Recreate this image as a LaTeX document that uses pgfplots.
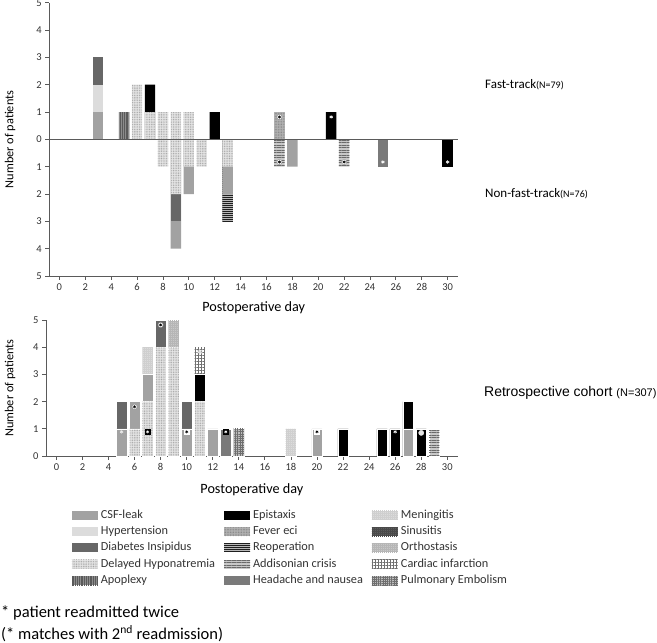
\documentclass[border=0pt]{standalone}
\usepackage{fontspec}
\setmainfont{Carlito}
\newfontfamily\arialfont{Liberation Sans}
\usepackage{pgfplots}
\pgfplotsset{compat=1.18}
\usetikzlibrary{patterns,patterns.meta}

\definecolor{axgray}{HTML}{5A5A5A}
\definecolor{tickgray}{HTML}{333333}
\definecolor{cCSF}{HTML}{A2A2A2}
\definecolor{cHyp}{HTML}{DCDCDC}
\definecolor{cDI}{HTML}{676767}
\definecolor{cDH}{HTML}{E6E6E6}
\definecolor{cDHp}{HTML}{A6A6A6}
\definecolor{cApo}{HTML}{8C8C8C}
\definecolor{cApop}{HTML}{5A5A5A}
\definecolor{cFev}{HTML}{B2B2B2}
\definecolor{cFevp}{HTML}{7E7E7E}
\definecolor{cReo}{HTML}{B8B8B8}
\definecolor{cReop}{HTML}{1E1E1E}
\definecolor{cAdd}{HTML}{C8C8C8}
\definecolor{cAddp}{HTML}{6A6A6A}
\definecolor{cHead}{HTML}{7A7A7A}
\definecolor{cMen}{HTML}{DCDCDC}
\definecolor{cMenp}{HTML}{CFCFCF}
\definecolor{cSin}{HTML}{5C5C5C}
\definecolor{cSinp}{HTML}{4A4A4A}
\definecolor{cOrt}{HTML}{C8C8C8}
\definecolor{cOrtp}{HTML}{B6B6B6}
\definecolor{cCarp}{HTML}{707070}
\definecolor{cPE}{HTML}{BDBDBD}
\definecolor{cPEp}{HTML}{6E6E6E}

\tikzset{
  csf/.style={fill=cCSF},
  hyp/.style={fill=cHyp},
  di/.style={fill=cDI},
  dh/.style={fill=cDH, postaction={draw=none, pattern={Dots[distance=1.7pt,radius=0.55pt]}, pattern color=cDHp}},
  apo/.style={fill=cApo, postaction={draw=none, pattern={Lines[angle=90,distance=1.8pt,line width=0.7pt]}, pattern color=cApop}},
  epi/.style={fill=black},
  fev/.style={fill=cFev, postaction={draw=none, pattern={Dots[distance=1.6pt,radius=0.45pt]}, pattern color=cFevp}},
  reo/.style={fill=cReo, postaction={draw=none, pattern={Lines[angle=0,distance=2pt,line width=0.9pt]}, pattern color=cReop}},
  add/.style={fill=cAdd, postaction={draw=none, pattern={Lines[angle=0,distance=2.5pt,line width=1pt]}, pattern color=cAddp}},
  hea/.style={fill=cHead},
  men/.style={fill=cMen, postaction={draw=none, pattern={Hatch[angle=0,distance=2pt,line width=0.3pt]}, pattern color=cMenp}},
  sin/.style={fill=cSin, postaction={draw=none, pattern={Hatch[angle=0,distance=2pt,line width=0.4pt]}, pattern color=cSinp}},
  ort/.style={fill=cOrt, postaction={draw=none, pattern={Hatch[angle=0,distance=2pt,line width=0.3pt]}, pattern color=cOrtp}},
  car/.style={fill=white, postaction={draw=none, pattern={Hatch[angle=0,distance=3pt,line width=0.6pt]}, pattern color=cCarp}},
  pe/.style={fill=cPE, postaction={draw=none, pattern={Hatch[angle=0,distance=2.2pt,line width=0.6pt]}, pattern color=cPEp}},
}

\pgfplotsset{
  seg/.style={ybar, bar width=0.8, bar shift=0pt, draw=none, forget plot},
  segB/.style={ybar, bar width=0.8, bar shift=0pt, draw=white, line width=0.5pt, forget plot},
  myax/.style={
    scale only axis,
    axis x line*=bottom, axis y line*=left,
    axis line style={axgray, line width=0.8pt},
    tick style={axgray, line width=0.8pt},
    major tick length=4pt, tick align=outside,
    xtick={0,2,...,30},
    ticklabel style={font=\fontsize{10.5}{12}\selectfont, text=tickgray},
    /pgf/number format/assume math mode=true,
    clip=false,
  },
}

\begin{document}
\begin{tikzpicture}
\useasboundingbox (0pt,0pt) rectangle (657pt,643pt);

% ---------------- Top: fast-track vs non-fast-track ----------------
\begin{axis}[myax,
  at={(49.3pt,367pt)}, anchor=south west,
  width=408.7pt, height=273.3pt,
  xmin=-0.78, xmax=30.8, ymin=-5, ymax=5,
  ytick={-5,-4,...,5},
  yticklabels={5,4,3,2,1,0,1,2,3,4,5},
  xlabel={Postoperative day},
  ylabel={Number of patients},
  every axis x label/.style={at={(axis description cs:0.5,-0.117)}, anchor=center, font=\fontsize{14.2}{16}\selectfont},
  every axis y label/.style={at={(axis description cs:-0.096,0.5)}, rotate=90, anchor=center, font=\fontsize{12.3}{14}\selectfont},
]
% fast-track (positive), outer segments first
\addplot[seg, di]  coordinates {(3,3)};
\addplot[seg, hyp] coordinates {(3,2)};
\addplot[seg, epi] coordinates {(7,2) (12,1) (21,1)};
\addplot[seg, csf] coordinates {(3,1)};
\addplot[seg, apo] coordinates {(5,1)};
\addplot[seg, dh]  coordinates {(6,2) (7,1) (8,1) (9,1) (10,1)};
\addplot[seg, fev] coordinates {(17,1)};
% non-fast-track (negative), outer segments first
\addplot[seg, reo] coordinates {(13,-3)};
\addplot[seg, csf] coordinates {(9,-4) (10,-2) (13,-2) (18,-1)};
\addplot[seg, di]  coordinates {(9,-3)};
\addplot[seg, dh]  coordinates {(8,-1) (9,-2) (10,-1) (11,-1) (13,-1)};
\addplot[seg, add] coordinates {(17,-1) (22,-1)};
\addplot[seg, hea] coordinates {(25,-1)};
\addplot[seg, epi] coordinates {(30,-1)};
% zero line
\draw[axgray, line width=0.8pt] (axis cs:-0.78,0) -- (axis cs:30.8,0);
% readmission markers
\addplot[only marks, mark=*, mark size=2.6pt, mark options={fill=white, draw=gray, line width=0.3pt}, forget plot]
  coordinates {(17,0.82) (17,-0.83) (22,-0.83)};
\addplot[only marks, mark=asterisk, mark size=1.6pt, mark options={black, line width=0.5pt}, forget plot]
  coordinates {(17,0.82) (17,-0.83) (22,-0.83)};
\addplot[only marks, mark=asterisk, mark size=1.8pt, mark options={white, line width=0.6pt}, forget plot]
  coordinates {(21,0.82) (25,-0.83) (30,-0.83)};
\end{axis}

% ---------------- Bottom: retrospective cohort ----------------
\begin{axis}[myax,
  at={(46pt,187pt)}, anchor=south west,
  width=411.7pt, height=136pt,
  xmin=-0.8, xmax=30.8, ymin=0, ymax=5,
  ytick={0,1,...,5},
  xlabel={Postoperative day},
  ylabel={Number of patients},
  every axis x label/.style={at={(axis description cs:0.5,-0.25)}, anchor=center, font=\fontsize{14.2}{16}\selectfont},
  every axis y label/.style={at={(axis description cs:-0.0874,0.5)}, rotate=90, anchor=center, font=\fontsize{12.3}{14}\selectfont},
  legend columns=3,
  legend cell align=left,
  legend image code/.code={\path[#1, draw=none] (0pt,-4.5pt) rectangle (26pt,4.5pt);},
  legend style={at={(0.055,-0.365)}, anchor=north west, draw=none, fill=none,
    font=\fontsize{12.3}{14}\selectfont, text=tickgray, row sep=1.3pt,
    nodes={inner xsep=3pt, inner ysep=1.5pt, text height=9pt, text depth=3pt},
    /tikz/every even column/.append style={column sep=6pt}},
]
\addplot[segB, men] coordinates {(7,4) (18,1)};
\addplot[segB, ort] coordinates {(9,5)};
\addplot[segB, car] coordinates {(11,4)};
\addplot[segB, di]  coordinates {(5,2) (8,5) (10,2)};
\addplot[segB, epi] coordinates {(11,3) (22,1) (25,1) (26,1) (27,2) (28,1)};
\addplot[segB, csf] coordinates {(5,1) (6,2) (7,3) (10,1) (12,1) (20,1) (27,1)};
\addplot[segB, dh]  coordinates {(6,1) (7,2) (8,4) (9,4) (11,2)};
\addplot[segB, hea] coordinates {(13,1)};
\addplot[segB, pe]  coordinates {(14,1)};
\addplot[segB, add] coordinates {(29,1)};
% readmission markers
\addplot[only marks, mark=*, mark size=2.6pt, mark options={fill=white, draw=gray, line width=0.3pt}, forget plot]
  coordinates {(6,1.81) (8,4.82)};
\addplot[only marks, mark=asterisk, mark size=1.6pt, mark options={black, line width=0.5pt}, forget plot]
  coordinates {(6,1.81) (8,4.82)};
\addplot[only marks, mark=square*, mark size=2.3pt, mark options={fill=black, draw=black}, forget plot]
  coordinates {(7,0.89) (13,0.89)};
\addplot[only marks, mark=asterisk, mark size=1.5pt, mark options={white, line width=0.5pt}, forget plot]
  coordinates {(7,0.89) (13,0.89)};
\addplot[only marks, mark=square*, mark size=2.3pt, mark options={fill=white, draw=white}, forget plot]
  coordinates {(10,0.89) (20,0.89)};
\addplot[only marks, mark=asterisk, mark size=1.5pt, mark options={black, line width=0.5pt}, forget plot]
  coordinates {(10,0.89) (20,0.89)};
\addplot[only marks, mark=asterisk, mark size=1.8pt, mark options={white!85!gray, line width=0.6pt}, forget plot]
  coordinates {(5,0.89) (26,0.89)};
\addplot[only marks, mark=asterisk, mark size=2.8pt, mark options={white!75!gray, line width=0.9pt}, forget plot]
  coordinates {(11,3.83)};
\addplot[only marks, mark=*, mark size=2.6pt, mark options={fill=white!80!gray, draw=white!80!gray}, forget plot]
  coordinates {(28,0.85)};
% legend
\addlegendimage{csf}\addlegendentry{CSF-leak}
\addlegendimage{epi}\addlegendentry{Epistaxis}
\addlegendimage{men}\addlegendentry{Meningitis}
\addlegendimage{hyp}\addlegendentry{Hypertension}
\addlegendimage{fev}\addlegendentry{Fever eci}
\addlegendimage{sin}\addlegendentry{Sinusitis}
\addlegendimage{di}\addlegendentry{Diabetes Insipidus}
\addlegendimage{reo}\addlegendentry{Reoperation}
\addlegendimage{ort}\addlegendentry{Orthostasis}
\addlegendimage{dh}\addlegendentry{Delayed Hyponatremia}
\addlegendimage{add}\addlegendentry{Addisonian crisis}
\addlegendimage{car}\addlegendentry{Cardiac infarction}
\addlegendimage{apo}\addlegendentry{Apoplexy}
\addlegendimage{hea}\addlegendentry{Headache and nausea}
\addlegendimage{pe}\addlegendentry{Pulmonary Embolism}
\end{axis}

% ---------------- Group labels ----------------
\node[anchor=base west, inner sep=0pt] at (485pt,554pt)
  {\fontsize{13}{15}\selectfont Fast-track\fontsize{10}{12}\selectfont(N=79)};
\node[anchor=base west, inner sep=0pt] at (485pt,445pt)
  {\fontsize{13}{15}\selectfont Non-fast-track\fontsize{10}{12}\selectfont(N=76)};
\node[anchor=base west, inner sep=0pt] at (484pt,246pt)
  {\arialfont\fontsize{14}{16}\selectfont Retrospective cohort \fontsize{11}{13}\selectfont(N=307)};

% ---------------- Footnote ----------------
\node[anchor=base west, inner sep=0pt] at (1pt,25pt)
  {\fontsize{16.5}{19}\selectfont * patient readmitted twice};
\node[anchor=base west, inner sep=0pt] at (1pt,3.5pt)
  {\fontsize{16.5}{19}\selectfont (* matches with 2\textsuperscript{nd} readmission)};
\end{tikzpicture}
\end{document}
